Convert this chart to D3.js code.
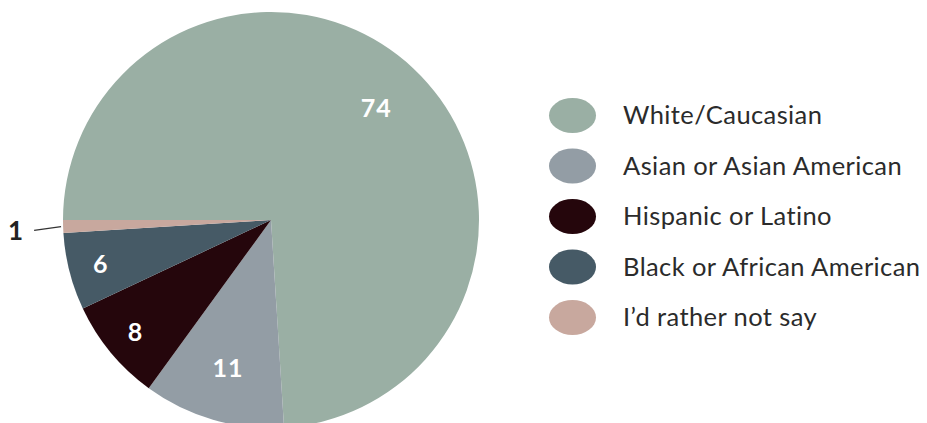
<!DOCTYPE html>
<html>
<head>
<meta charset="utf-8">
<script src="https://cdn.jsdelivr.net/npm/d3@7"></script>
<style>
  html, body { margin: 0; padding: 0; background: #fff; }
  svg { display: block; }
</style>
</head>
<body>
<svg id="chart" width="927" height="423"></svg>
<script>
const categories = ["White/Caucasian", "Asian or Asian American", "Hispanic or Latino", "Black or African American", "I\u2019d rather not say"];
const values = [74, 11, 8, 6, 1];
const colors = ["#9AAFA4", "#939DA5", "#25060C", "#465A66", "#C8A89E"];

const svg = d3.select("#chart");
const cx = 271, cy = 220, R = 208;
const fontFam = "Lato, 'Open Sans', sans-serif";

const data = categories.map((c, i) => ({ name: c, value: values[i], color: colors[i] }));

const pie = d3.pie().value(d => d.value).sort(null)
  .startAngle(-Math.PI / 2).endAngle(1.5 * Math.PI);
const arcs = pie(data);
const arc = d3.arc().innerRadius(0).outerRadius(R);

const g = svg.append("g").attr("transform", `translate(${cx},${cy})`);
g.selectAll("path").data(arcs).join("path")
  .attr("d", arc)
  .attr("fill", d => d.data.color);

// labels inside slices
const inside = arcs.filter(d => d.data.value >= 5);
g.selectAll("text.val").data(inside).join("text")
  .attr("class", "val")
  .attr("transform", d => {
    const lr = d.data.value >= 10 ? R * 0.74 : R * 0.845;
    const a = (d.startAngle + d.endAngle) / 2;
    return `translate(${Math.sin(a) * lr},${-Math.cos(a) * lr})`;
  })
  .attr("text-anchor", "middle")
  .attr("dy", "0.36em")
  .attr("fill", "#fff")
  .attr("font-family", fontFam)
  .attr("font-weight", 700)
  .attr("font-size", 25)
  .attr("letter-spacing", 1)
  .text(d => d.data.value);

// outside label for small slice
const small = arcs.filter(d => d.data.value < 5);
small.forEach(d => {
  const a = (d.startAngle + d.endAngle) / 2;
  const x0 = Math.sin(a) * (R + 2), y0 = -Math.cos(a) * (R + 2);
  const x1 = Math.sin(a) * (R + 29), y1 = -Math.cos(a) * (R + 29) + 3;
  g.append("line")
    .attr("x1", x0).attr("y1", y0).attr("x2", x1).attr("y2", y1)
    .attr("stroke", "#333").attr("stroke-width", 1.2);
  g.append("text")
    .attr("x", x1 - 11).attr("y", y1)
    .attr("text-anchor", "end")
    .attr("dy", "0.36em")
    .attr("fill", "#222")
    .attr("font-family", fontFam)
    .attr("font-weight", 700)
    .attr("font-size", 26)
    .text(d.data.value);
});

// legend
const legend = svg.append("g");
const ly = d3.scalePoint().domain(categories).range([115.5, 317.5]);
const item = legend.selectAll("g").data(data).join("g")
  .attr("transform", d => `translate(0,${ly(d.name)})`);
item.append("ellipse")
  .attr("cx", 572.5).attr("cy", 0).attr("rx", 23.5).attr("ry", 17.5)
  .attr("fill", d => d.color);
const labels = item.append("text")
  .attr("x", 623).attr("y", 0).attr("dy", "0.34em")
  .attr("fill", "#2b2b2b")
  .attr("font-family", fontFam)
  .attr("font-weight", 400)
  .attr("font-size", 25.5)
  .text(d => d.name);

// widen letter spacing so the longest label spans like the reference (~297px)
let maxW = 0, maxN = 1;
labels.each(function(d) {
  const w = this.getComputedTextLength();
  if (w > maxW) { maxW = w; maxN = d.name.length; }
});
const ls = Math.max(0, (297 - maxW) / (maxN - 1));
labels.attr("letter-spacing", ls);
</script>
</body>
</html>
